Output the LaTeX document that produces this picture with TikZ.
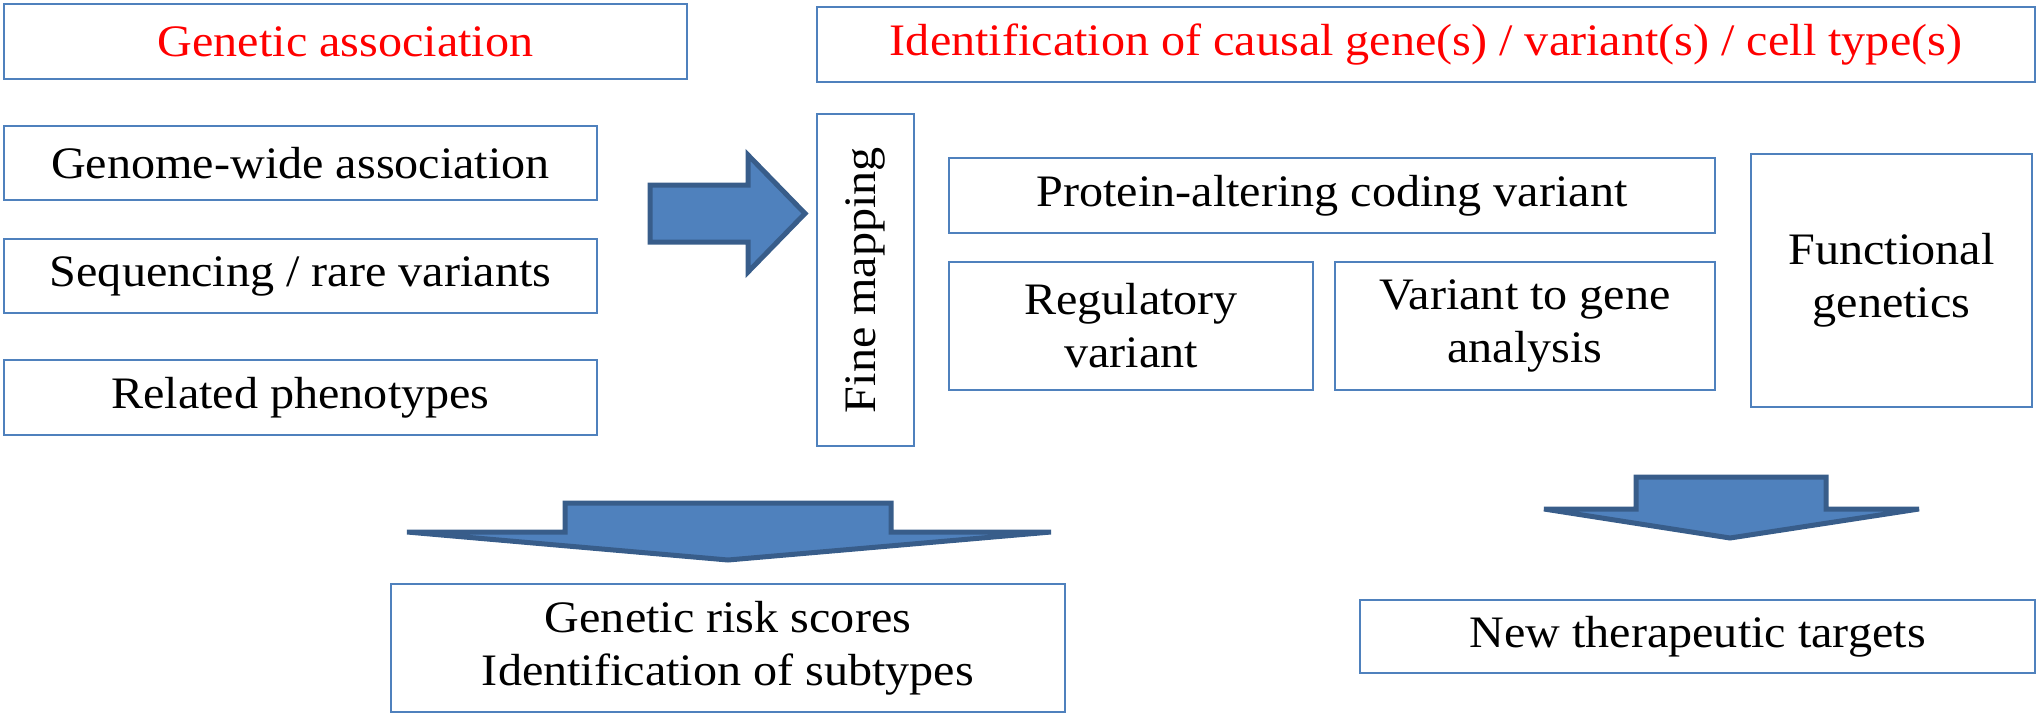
\documentclass[tikz,border=0pt]{standalone}
\usepackage{fontspec}
\setmainfont{Liberation Serif}[FakeStretch=1.07]
\definecolor{boxblue}{HTML}{4F81BD}
\definecolor{arrowedge}{HTML}{385D8A}
\definecolor{titlered}{HTML}{FF0000}
\begin{document}
\begin{tikzpicture}[x=0.5pt,y=-0.5pt,
  box/.style={draw=boxblue, line width=1.1pt, fill=white, align=center, inner sep=0pt,
    font=\fontsize{22.5}{26.5}\selectfont},
  titlebox/.style={box, text=titlered},
  blockarrow/.style={fill=boxblue, draw=arrowedge, line width=2.5pt, line join=miter}]
\useasboundingbox (0,0) rectangle (2040,717);
% left column
\node[titlebox, minimum width=341.5pt, minimum height=37.5pt] (ga) at (345.5,41.5) {Genetic association};
\node[box, minimum width=296.5pt, minimum height=37pt] (gw) at (300.5,163) {Genome-wide association};
\node[box, minimum width=296.5pt, minimum height=37pt] (seq) at (300.5,276) {Sequencing / rare variants};
\node[box, minimum width=296.5pt, minimum height=37.5pt] (rel) at (300.5,397.5) {Related phenotypes};
% right part
\node[titlebox, minimum width=609pt, minimum height=37.5pt] (id) at (1426,44.5) {Identification of causal gene(s) / variant(s) / cell type(s)};
\node[box, rotate=90, minimum width=166pt, minimum height=48.5pt] (fm) at (865.5,280) {Fine mapping};
\node[box, minimum width=383pt, minimum height=37.5pt] (prot) at (1332,195.5) {Protein-altering coding variant};
\node[box, minimum width=182pt, minimum height=64pt] (reg) at (1131,326) {Regulatory\\variant};
\node[box, minimum width=190pt, minimum height=64pt] (v2g) at (1525,326) {Variant to gene\\analysis};
\node[box, minimum width=140.5pt, minimum height=126.5pt] (fg) at (1891.5,280.5) {Functional\\genetics};
% bottom
\node[box, minimum width=337pt, minimum height=64pt] (grs) at (728,648) {Genetic risk scores\\Identification of subtypes};
\node[box, minimum width=337.5pt, minimum height=36.5pt] (ntt) at (1697.5,636.5) {New therapeutic targets};
% block arrows
\draw[blockarrow] (650,185) -- (748,185) -- (748,155) -- (805,213.5) -- (748,272) -- (748,242) -- (650,242) -- cycle;
\draw[blockarrow] (565,503) -- (891,503) -- (891,532) -- (1051,532) -- (728,560) -- (407,532) -- (565,532) -- cycle;
\draw[blockarrow] (1636,477) -- (1826,477) -- (1826,509) -- (1919,509) -- (1730,538) -- (1544,509) -- (1636,509) -- cycle;
\end{tikzpicture}
\end{document}
